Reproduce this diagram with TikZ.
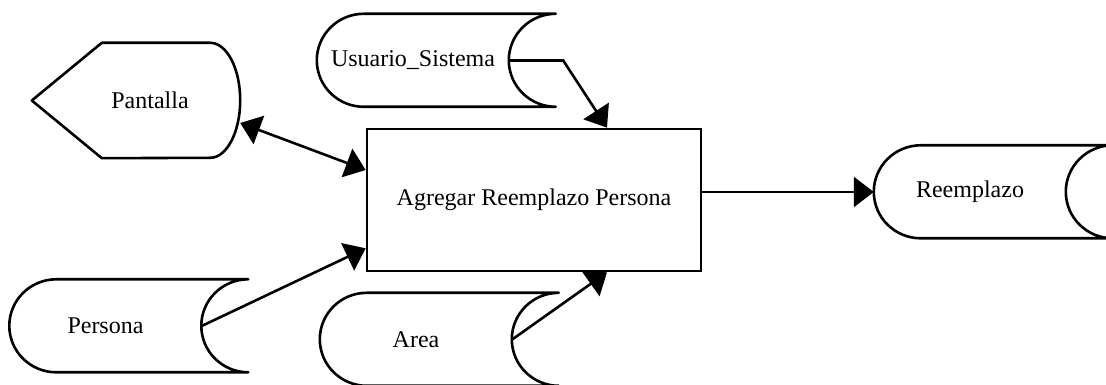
\documentclass[tikz,border=0pt]{standalone}
\usepackage{fontspec}
\setmainfont{Liberation Serif}
\usetikzlibrary{arrows.meta}
\tikzset{
    outline/.style ={
        line width=2.6pt,
        line join=round
    },
    process/.style ={
        shape=rectangle,
        draw=black,
        line width=2.6pt,
        minimum width=334pt,
        minimum height=142pt
    },
    store/.style ={
        minimum width=192pt,
        minimum height=93pt,
        inner sep=0pt,
        append after command={\pgfextra{
            \draw[outline] ([xshift=47pt]\tikzlastnode.north west) -- ++(192pt,0)
                arc[start angle=90, end angle=270, x radius=47pt, y radius=46.5pt]
                -- ++(-192pt,0)
                arc[start angle=270, end angle=90, x radius=47pt, y radius=46.5pt];
        }}
    },
    screen/.style ={
        minimum width=180pt,
        minimum height=115pt,
        inner sep=0pt,
        append after command={\pgfextra{
            \draw[outline] ([xshift=42pt]\tikzlastnode.north west)
                -- ([xshift=-30pt]\tikzlastnode.north east)
                arc[start angle=90, end angle=-90, x radius=30pt, y radius=57.5pt]
                -- ([xshift=42pt]\tikzlastnode.south west)
                -- ([xshift=-28pt]\tikzlastnode.west) -- cycle;
        }}
    },
    flow/.style ={
        line width=2.6pt,
        >={Triangle[length=20pt,width=30pt]}
    }
}

\begin{document}
\begin{tikzpicture}[x=1pt,y=1pt,every node/.style={font=\fontsize{24}{28}\selectfont}]
    \useasboundingbox (0,0) rectangle (1106,385);
    \node[process] (box) at(534,185) {Agregar Reemplazo Persona};
    \node[screen] (pantalla) at(150,284.5) {Pantalla};
    \node[store] (usuario) at(413,324.5) {Usuario\_Sistema};
    \node[store] (persona) at(105.5,59) {Persona};
    \node[store] (area) at(416,45.5) {Area};
    \node[store] (reemplazo) at(970,193) {Reemplazo};
    % flujos de datos
    \draw[flow,<->] (pantalla.-14) -- ([yshift=30pt]box.west);
    \draw[flow,->] (usuario.east) -- ++(54pt,0) -- ([xshift=73pt]box.north);
    \draw[flow,->] (persona.east) -- ([yshift=24pt]box.south west);
    \draw[flow,->] (area.east) -- ([xshift=73pt]box.south);
    \draw[flow,->] (box.east |- reemplazo.west) -- (reemplazo.west);
\end{tikzpicture}
\end{document}
